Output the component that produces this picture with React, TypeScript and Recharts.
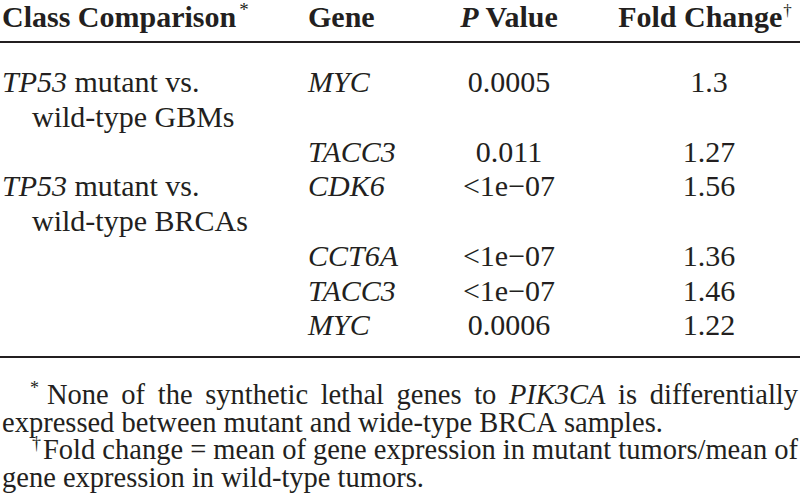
import React from "react";
import { Surface, Layer, Text } from "recharts";

// table content
const classComparisons = [
  { italic: "TP53", rest: " mutant vs.", wrap: "wild-type GBMs" },
  { italic: "TP53", rest: " mutant vs.", wrap: "wild-type BRCAs" },
];
const rowGroups = [0, 0, 1, 1, 1, 1];
const genes = ["MYC", "TACC3", "CDK6", "CCT6A", "TACC3", "MYC"];
const pValues = ["0.0005", "0.011", "<1e\u221207", "<1e\u221207", "<1e\u221207", "0.0006"];
const foldChanges = ["1.3", "1.27", "1.56", "1.36", "1.46", "1.22"];

type Part = { t: string; i?: boolean };
const footnotes: { mark: string; lines: Part[][] }[] = [
  {
    mark: "*",
    lines: [
      [{ t: "None of the synthetic lethal genes to " }, { t: "PIK3CA", i: true }, { t: " is differentially" }],
      [{ t: "expressed between mutant and wide-type BRCA samples." }],
    ],
  },
  {
    mark: "\u2020",
    lines: [
      [{ t: "Fold change = mean of gene expression in mutant tumors/mean of" }],
      [{ t: "gene expression in wild-type tumors." }],
    ],
  },
];

const W = 800;
const H = 503;
const INK = "#231f20";
const SERIF = "'Liberation Serif', 'Times New Roman', serif";
const BODY = 30;
const NOTE = 28.5;

const COL_CLASS = 2;
const COL_WRAP = 32;
const COL_GENE = 308;
const COL_P = 509;
const COL_FC = 709;

const HEAD_Y = 27;
const RULE1 = 42;
const FIRST_LINE = 92;
const LINE_H = 34.75;
const RULE2 = 357;
const NOTE_Y = 404;
const NOTE_H = 27.7;

let ctx: CanvasRenderingContext2D | null = null;
function textWidth(s: string, size: number, italic = false) {
  if (!ctx) ctx = document.createElement("canvas").getContext("2d");
  if (!ctx) return s.length * size * 0.45;
  ctx.font = `${italic ? "italic " : ""}${size}px 'Liberation Serif'`;
  return ctx.measureText(s).width;
}

function NoteLine({ parts, x0, x1, y, justify }: { parts: Part[]; x0: number; x1: number; y: number; justify: boolean }) {
  const words = parts.flatMap((p) =>
    p.t.split(" ").filter(Boolean).map((w) => ({ w, i: !!p.i }))
  );
  const widths = words.map((d) => textWidth(d.w, NOTE, d.i));
  const total = widths.reduce((a, b) => a + b, 0);
  const gap = justify && words.length > 1
    ? (x1 - x0 - total) / (words.length - 1)
    : textWidth(" ", NOTE);
  let x = x0;
  return (
    <Layer>
      {words.map((d, k) => {
        const el = (
          <text key={k} x={x} y={y} fontSize={NOTE} fontStyle={d.i ? "italic" : "normal"} fill={INK} fontFamily={SERIF}>
            {d.w}
          </text>
        );
        x += widths[k] + gap;
        return el;
      })}
    </Layer>
  );
}

export default function App() {
  // work out which text line each row starts on
  const rowLines: number[] = [];
  let line = 0;
  rowGroups.forEach((g, r) => {
    rowLines.push(line);
    const first = r === 0 || rowGroups[r - 1] !== g;
    line += first ? 2 : 1;
  });
  const lineY = (l: number) => FIRST_LINE + l * LINE_H;

  return (
    <div style={{ position: "absolute", left: 0, top: 0, width: W, height: H, background: "#fff" }}>
      <Surface width={W} height={H}>
        <Layer fontFamily={SERIF} fill={INK}>
          {/* header */}
          <text x={COL_CLASS} y={HEAD_Y} fontSize={BODY} fontWeight="bold" fill={INK} fontFamily={SERIF}>
            Class Comparison
            <tspan dx={3} dy={-11} fontSize={19} fontWeight="normal">*</tspan>
          </text>
          <text x={COL_GENE} y={HEAD_Y} fontSize={BODY} fontWeight="bold" fill={INK} fontFamily={SERIF}>
            Gene
          </text>
          <text x={COL_P} y={HEAD_Y} fontSize={BODY} fontWeight="bold" textAnchor="middle" fill={INK} fontFamily={SERIF}>
            <tspan fontStyle="italic">P</tspan> Value
          </text>
          <text x={705} y={HEAD_Y} fontSize={BODY} fontWeight="bold" textAnchor="middle" fill={INK} fontFamily={SERIF}>
            Fold Change
            <tspan dx={1} dy={-11} fontSize={17} fontWeight="normal">{"\u2020"}</tspan>
          </text>
          <line x1={0} x2={W} y1={RULE1} y2={RULE1} stroke={INK} strokeWidth={2} />

          {/* body rows */}
          {rowGroups.map((g, r) => {
            const y = lineY(rowLines[r]);
            const first = r === 0 || rowGroups[r - 1] !== g;
            const c = classComparisons[g];
            return (
              <Layer key={r}>
                {first && (
                  <>
                    <text x={COL_CLASS} y={y} fontSize={BODY} fill={INK} fontFamily={SERIF}>
                      <tspan fontStyle="italic">{c.italic}</tspan>
                      {c.rest}
                    </text>
                    <text x={COL_WRAP} y={y + LINE_H} fontSize={BODY} fill={INK} fontFamily={SERIF}>
                      {c.wrap}
                    </text>
                  </>
                )}
                <Text x={COL_GENE} y={y} fontSize={BODY} fontStyle="italic" fill={INK} fontFamily={SERIF} verticalAnchor="end">
                  {genes[r]}
                </Text>
                <Text x={COL_P} y={y} fontSize={BODY} fill={INK} fontFamily={SERIF} textAnchor="middle" verticalAnchor="end">
                  {pValues[r]}
                </Text>
                <Text x={COL_FC} y={y} fontSize={BODY} fill={INK} fontFamily={SERIF} textAnchor="middle" verticalAnchor="end">
                  {foldChanges[r]}
                </Text>
              </Layer>
            );
          })}
          <line x1={0} x2={W} y1={RULE2} y2={RULE2} stroke={INK} strokeWidth={2} />

          {/* footnotes */}
          {footnotes.map((f, n) => {
            const y0 = NOTE_Y + n * 2 * NOTE_H;
            const markX = f.mark === "*" ? 30 : 32;
            const textX = f.mark === "*" ? 47 : 43;
            return (
              <Layer key={n}>
                <text x={markX} y={y0 - 10} fontSize={18} fill={INK} fontFamily={SERIF}>
                  {f.mark}
                </text>
                {f.lines.map((parts, k) => (
                  <NoteLine
                    key={k}
                    parts={parts}
                    x0={k === 0 ? textX : COL_CLASS}
                    x1={798}
                    y={y0 + k * NOTE_H}
                    justify={k < f.lines.length - 1}
                  />
                ))}
              </Layer>
            );
          })}
        </Layer>
      </Surface>
    </div>
  );
}
